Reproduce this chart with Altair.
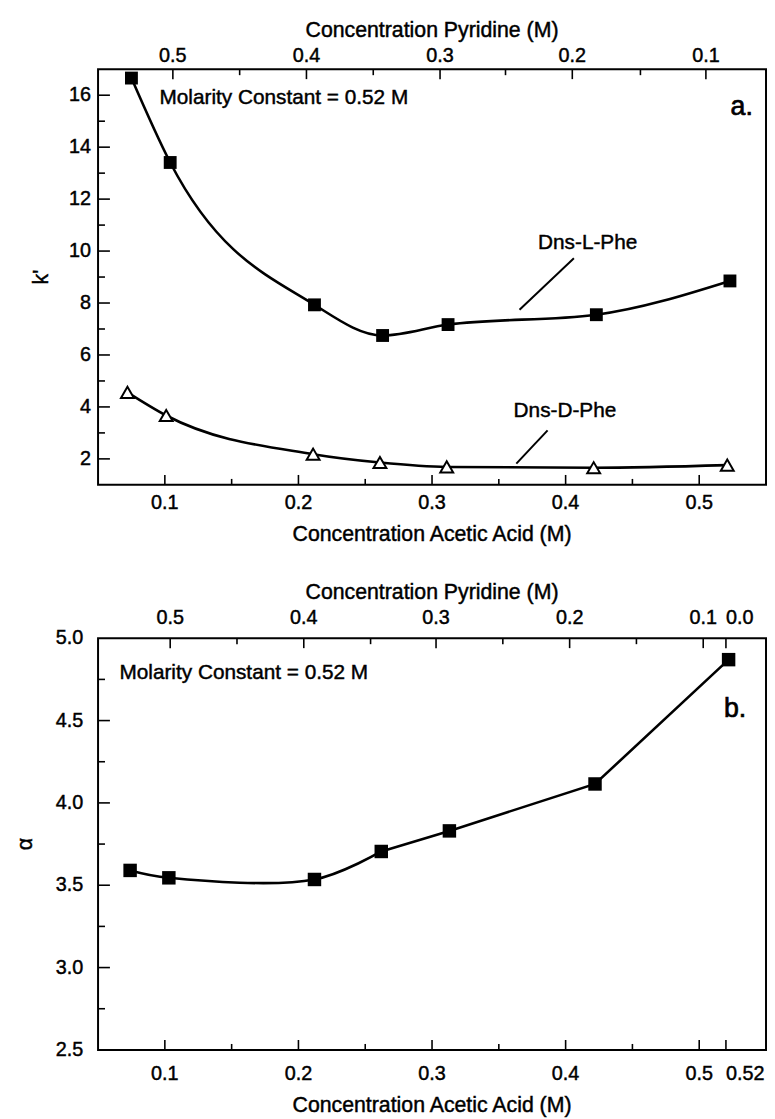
import altair as alt
import pandas as pd

# ---------------- data ----------------
# Panel a: capacity factor k' vs acetic acid concentration
acetic_L = [0.075, 0.104, 0.212, 0.263, 0.312, 0.423, 0.523]
k_L = [16.66, 13.41, 7.93, 6.75, 7.17, 7.55, 8.85]
acetic_D = [0.072, 0.101, 0.211, 0.261, 0.311, 0.421, 0.521]
k_D = [4.56, 3.67, 2.18, 1.86, 1.69, 1.66, 1.76]

# Panel b: selectivity alpha vs acetic acid concentration
acetic_b = [0.074, 0.103, 0.212, 0.262, 0.313, 0.422, 0.522]
alpha_b = [3.59, 3.545, 3.535, 3.705, 3.83, 4.115, 4.87]

# bottom axis (acetic acid)
acetic_major = [0.1, 0.2, 0.3, 0.4, 0.5]
acetic_labels = ["0.1", "0.2", "0.3", "0.4", "0.5"]
acetic_extra_b = [0.52]
acetic_extra_labels_b = ["0.52"]
acetic_minor = [0.15, 0.25, 0.35, 0.45]
# top axis (pyridine): tick positions on the acetic-acid scale, and their labels
pyr_pos_a = [0.106, 0.206, 0.306, 0.405, 0.505]
pyr_minor_a = [0.156, 0.256, 0.355, 0.456]
pyr_pos_b = [0.104, 0.204, 0.303, 0.403, 0.503]
pyr_minor_b = [0.154, 0.254, 0.353, 0.453]
pyr_labels = ["0.5", "0.4", "0.3", "0.2", "0.1"]
pyr_extra_b = [0.52]
pyr_extra_labels_b = ["0.0"]
# left axes
k_major = [2, 4, 6, 8, 10, 12, 14, 16]
k_labels = ["2", "4", "6", "8", "10", "12", "14", "16"]
k_minor = [3, 5, 7, 9, 11, 13, 15]
alpha_label_vals = [2.5, 3.0, 3.5, 4.0, 4.5, 5.0]
alpha_labels = ["2.5", "3.0", "3.5", "4.0", "4.5", "5.0"]
alpha_major = [3.0, 3.5, 4.0, 4.5]
alpha_minor = [2.75, 3.25, 3.75, 4.25, 4.75]

note_text = "Molarity Constant = 0.52 M"
series_names = ["Dns-L-Phe", "Dns-D-Phe"]
x_title = "Concentration Acetic Acid (M)"
top_title = "Concentration Pyridine (M)"

# ---------------- styling ----------------
FONT = "Liberation Sans"
LFS = 20     # tick labels
TFS = 21.5   # axis titles
AFS = 21     # annotations
TXT_STROKE = 0.45
W = 675
HA, HB = 420, 416
MAJ, MIN = 10, 6

acid_scale = alt.Scale(domain=[0.05, 0.55], nice=False, zero=False)
ys_a = alt.Scale(domain=[1, 17], nice=False, zero=False)
ys_b = alt.Scale(domain=[2.5, 5.0], nice=False, zero=False)


def vdf(vals, labels=None):
    d = {"v": vals}
    if labels is not None:
        d["t"] = labels
    return pd.DataFrame(d)


def rule(df, **enc):
    return alt.Chart(df).mark_rule(color="black", strokeWidth=1.6).encode(**enc)


def txt(df, align="center", size=LFS, angle=0, sw=TXT_STROKE, **enc):
    return alt.Chart(df).mark_text(align=align, baseline="middle", font=FONT, fontSize=size,
                                   angle=angle, color="black", stroke="black",
                                   strokeWidth=sw).encode(text="t:N", **enc)


def xv(field="v"):
    return alt.X(f"{field}:Q", scale=acid_scale, axis=None)


def yv(scale, field="v"):
    return alt.Y(f"{field}:Q", scale=scale, axis=None)


def frame_layers(H, yscale, pyr_pos, pyr_minor, pyr_extra, pyr_extra_lab,
                 ac_extra, ac_extra_lab, ymaj, ymin, ylab_vals, ylabs, ytitle,
                 top_lab_dy, top_title_dy, bot_lab_dy, bot_title_dy, ylab_dx, ytitle_dx):
    L = []
    # bottom ticks (inward)
    L.append(rule(vdf(acetic_major + ac_extra), x=xv(), y=alt.value(H), y2=alt.value(H - MAJ)))
    L.append(rule(vdf(acetic_minor), x=xv(), y=alt.value(H), y2=alt.value(H - MIN)))
    # top ticks (inward)
    L.append(rule(vdf(pyr_pos + pyr_extra), x=xv(), y=alt.value(0), y2=alt.value(MAJ)))
    L.append(rule(vdf(pyr_minor), x=xv(), y=alt.value(0), y2=alt.value(MIN)))
    # left ticks (inward)
    L.append(rule(vdf(ymaj), y=yv(yscale), x=alt.value(0), x2=alt.value(MAJ + 2)))
    L.append(rule(vdf(ymin), y=yv(yscale), x=alt.value(0), x2=alt.value(MIN + 1)))
    # tick labels
    L.append(txt(vdf(acetic_major, acetic_labels), x=xv(), y=alt.value(H + bot_lab_dy)))
    if ac_extra:
        L.append(txt(vdf(ac_extra, ac_extra_lab), align="left", x=xv(), y=alt.value(H + bot_lab_dy)))
    L.append(txt(vdf(pyr_pos, pyr_labels), x=xv(), y=alt.value(top_lab_dy)))
    if pyr_extra:
        L.append(txt(vdf(pyr_extra, pyr_extra_lab), align="left", x=xv(), y=alt.value(top_lab_dy)))
    L.append(txt(vdf(ylab_vals, ylabs), align="right", y=yv(yscale), x=alt.value(ylab_dx)))
    # titles
    L.append(txt(pd.DataFrame({"t": [x_title]}), size=TFS,
                 x=alt.value(W / 2), y=alt.value(H + bot_title_dy)))
    L.append(txt(pd.DataFrame({"t": [top_title]}), size=TFS,
                 x=alt.value(W / 2), y=alt.value(top_title_dy)))
    L.append(txt(pd.DataFrame({"t": [ytitle]}), size=TFS, angle=270,
                 x=alt.value(ytitle_dx), y=alt.value(H / 2)))
    return L


def ann(df, yscale, align="left", size=AFS, sw=TXT_STROKE):
    return txt(df, align=align, size=size, sw=sw, x=xv("x"), y=yv(yscale, "y"))


# ---------------- panel a ----------------
dfL = pd.DataFrame({"x": acetic_L, "y": k_L})
dfD = pd.DataFrame({"x": acetic_D, "y": k_D})
enc_a = dict(x=xv("x"), y=yv(ys_a, "y"))

lineL = alt.Chart(dfL).mark_line(interpolate="monotone", color="black", strokeWidth=2.6).encode(**enc_a)
lineD = alt.Chart(dfD).mark_line(interpolate="monotone", color="black", strokeWidth=2.6).encode(**enc_a)
ptsL = alt.Chart(dfL).mark_point(shape="square", filled=True, color="black", size=169,
                                 opacity=1).encode(**enc_a)
ptsD = alt.Chart(dfD).mark_point(shape="triangle-up", filled=True, fill="white", stroke="black",
                                 strokeWidth=2, size=170, opacity=1).encode(**enc_a)

ann_a = pd.DataFrame({"x": [0.096], "y": [15.9], "t": [note_text]})
lab_a = pd.DataFrame({"x": [0.5235], "y": [15.55], "t": ["a."]})
names_a = pd.DataFrame({"x": [0.4165, 0.3995], "y": [10.29, 3.83], "t": series_names})
lead_a = pd.DataFrame({"x": [0.4062, 0.3865], "y": [9.72, 3.10],
                       "x2": [0.3655, 0.3631], "y2": [7.74, 1.82]})
leaders_a = alt.Chart(lead_a).mark_rule(color="black", strokeWidth=2).encode(
    x=xv("x"), x2="x2:Q", y=yv(ys_a, "y"), y2="y2:Q")

panel_a = alt.layer(
    lineL, lineD, ptsL, ptsD,
    *frame_layers(HA, ys_a, pyr_pos_a, pyr_minor_a, [], [], [], [],
                  k_major, k_minor, k_major, k_labels, "k'",
                  -13, -39, 18.5, 50.5, -7, -57),
    ann(ann_a, ys_a), ann(lab_a, ys_a, size=27, sw=0.7),
    ann(names_a, ys_a, align="center"), leaders_a,
).properties(width=W, height=HA)

# ---------------- panel b ----------------
dfB = pd.DataFrame({"x": acetic_b, "y": alpha_b, "i": list(range(len(acetic_b)))})
enc_b = dict(x=xv("x"), y=yv(ys_b, "y"))

curveB = alt.Chart(dfB).transform_filter("datum.i <= 3").mark_line(
    interpolate="catmull-rom", color="black", strokeWidth=2.6).encode(**enc_b)
straightB = alt.Chart(dfB).transform_filter("datum.i >= 3").mark_line(
    color="black", strokeWidth=2.6).encode(**enc_b)
ptsB = alt.Chart(dfB).mark_point(shape="square", filled=True, color="black", size=185,
                                 opacity=1).encode(**enc_b)

ann_b = pd.DataFrame({"x": [0.066], "y": [4.79], "t": [note_text]})
lab_b = pd.DataFrame({"x": [0.5185], "y": [4.57], "t": ["b."]})

panel_b = alt.layer(
    curveB, straightB, ptsB,
    *frame_layers(HB, ys_b, pyr_pos_b, pyr_minor_b, pyr_extra_b, pyr_extra_labels_b,
                  acetic_extra_b, acetic_extra_labels_b,
                  alpha_major, alpha_minor, alpha_label_vals, alpha_labels, "α",
                  -20, -46, 24, 57, -15, -73),
    ann(ann_b, ys_b), ann(lab_b, ys_b, size=27, sw=0.7),
).properties(width=W, height=HB)

chart = alt.vconcat(panel_a, panel_b, spacing=155, bounds="flush").properties(
    padding={"left": 6, "top": 5, "right": 0, "bottom": 0}
).configure(font=FONT).configure_view(stroke="black", strokeWidth=2)

chart.save("out.html", embed_options={"renderer": "svg", "actions": False})
